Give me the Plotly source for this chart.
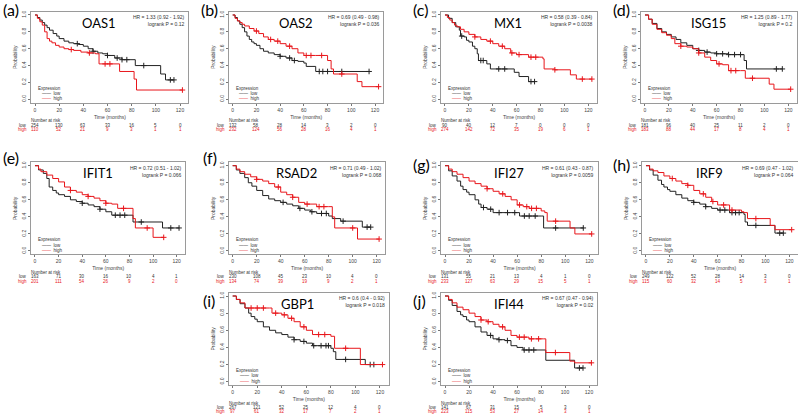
import plotly.graph_objects as go

W, H = 798, 415
RED = "#e8161b"
BLACK = "#222222"

TIME_TICKS = [0, 20, 40, 60, 80, 100, 120]
PROB_TICKS = [0, 0.2, 0.4, 0.6, 0.8, 1.0]
PROB_LABELS = ["0.0", "0.2", "0.4", "0.6", "0.8", "1.0"]

GENES = ["OAS1", "OAS2", "MX1", "ISG15", "IFIT1", "RSAD2", "IFI27", "IRF9", "GBP1", "IFI44"]
LETTERS = ["(a)", "(b)", "(c)", "(d)", "(e)", "(f)", "(g)", "(h)", "(i)", "(j)"]
HR_TEXT = ["HR = 1.33 (0.92 - 1.92)", "HR = 0.69 (0.49 - 0.98)", "HR = 0.58 (0.39 - 0.84)",
           "HR = 1.25 (0.89 - 1.77)", "HR = 0.72 (0.51 - 1.02)", "HR = 0.71 (0.49 - 1.02)",
           "HR = 0.61 (0.43 - 0.87)", "HR = 0.69 (0.47 - 1.02)", "HR = 0.6 (0.4 - 0.92)",
           "HR = 0.67 (0.47 - 0.94)"]
P_TEXT = ["logrank P = 0.12", "logrank P = 0.036", "logrank P = 0.0038", "logrank P = 0.2",
          "logrank P = 0.066", "logrank P = 0.068", "logrank P = 0.0059", "logrank P = 0.064",
          "logrank P = 0.018", "logrank P = 0.02"]

# ---- numbers at risk (at 0,20,...,120 months) ----
RISK_LOW_OAS1 = [254, 130, 63, 33, 16, 5, 0]
RISK_HIGH_OAS1 = [110, 52, 21, 9, 3, 1, 1]
RISK_LOW_OAS2 = [132, 58, 28, 14, 3, 2, 0]
RISK_HIGH_OAS2 = [232, 124, 56, 28, 16, 4, 1]
RISK_LOW_MX1 = [90, 40, 12, 7, 0, 0, 0]
RISK_HIGH_MX1 = [274, 142, 72, 35, 19, 6, 1]
RISK_LOW_ISG15 = [181, 96, 40, 25, 11, 2, 0]
RISK_HIGH_ISG15 = [183, 88, 44, 17, 8, 4, 1]
RISK_LOW_IFIT1 = [163, 71, 30, 16, 10, 4, 1]
RISK_HIGH_IFIT1 = [201, 111, 54, 26, 9, 2, 0]
RISK_LOW_RSAD2 = [230, 108, 45, 23, 10, 4, 0]
RISK_HIGH_RSAD2 = [134, 74, 39, 19, 9, 2, 1]
RISK_LOW_IFI27 = [131, 55, 21, 13, 4, 1, 0]
RISK_HIGH_IFI27 = [233, 127, 63, 29, 15, 5, 1]
RISK_LOW_IRF9 = [249, 122, 52, 28, 14, 3, 0]
RISK_HIGH_IRF9 = [115, 60, 32, 14, 5, 3, 1]
RISK_LOW_GBP1 = [267, 121, 52, 25, 12, 4, 0]
RISK_HIGH_GBP1 = [97, 61, 32, 17, 7, 2, 1]
RISK_LOW_IFI44 = [141, 67, 31, 15, 5, 3, 0]
RISK_HIGH_IFI44 = [223, 115, 53, 27, 14, 3, 1]

# ---- Kaplan-Meier step curves (time in months, survival probability), censor times ----
OAS1_LOW_T = [0, 2, 4, 6, 8, 10, 12, 15, 18, 20, 24, 28, 32, 36, 40, 44, 48, 52, 56, 60, 66, 72, 83, 104, 108, 115]
OAS1_LOW_S = [1.0, .97, .94, .91, .88, .85, .82, .78, .75, .72, .69, .67, .66, .65, .63, .60, .57, .55, .54, .52, .49, .47, .40, .30, .23, .23]
OAS1_LOW_C = [35, 48, 60, 68, 72, 76, 90, 112, 115]
OAS1_HIGH_T = [0, 2, 4, 6, 8, 10, 12, 14, 17, 20, 24, 28, 32, 38, 44, 50, 53, 70, 82, 84, 122]
OAS1_HIGH_S = [1.0, .96, .92, .88, .80, .72, .69, .67, .64, .62, .60, .59, .58, .56, .55, .54, .42, .33, .24, .11, .11]
OAS1_HIGH_C = [30, 45, 58, 62, 122]

OAS2_LOW_T = [0, 2, 4, 6, 8, 10, 12, 14, 16, 18, 20, 23, 26, 30, 35, 40, 45, 50, 55, 60, 62, 70, 115]
OAS2_LOW_S = [1.0, .97, .93, .89, .85, .80, .75, .71, .68, .66, .64, .60, .57, .55, .53, .51, .49, .46, .45, .43, .39, .33, .33]
OAS2_LOW_C = [40, 48, 52, 73, 76, 80, 92, 115]
OAS2_HIGH_T = [0, 2, 4, 6, 8, 10, 14, 18, 22, 26, 30, 35, 40, 45, 50, 55, 60, 70, 80, 83, 85, 105, 109, 123]
OAS2_HIGH_S = [1.0, .96, .93, .91, .89, .87, .84, .81, .78, .74, .71, .69, .66, .63, .60, .55, .52, .52, .46, .36, .30, .21, .15, .15]
OAS2_HIGH_C = [20, 32, 38, 48, 62, 66, 75, 92, 123]

MX1_LOW_T = [0, 3, 6, 9, 12, 13, 16, 18, 20, 23, 25, 27, 28, 35, 38, 58, 62, 70, 75]
MX1_LOW_S = [1.0, .96, .91, .86, .82, .75, .74, .70, .68, .63, .60, .54, .46, .42, .36, .32, .27, .21, .21]
MX1_LOW_C = [14, 30, 32, 45, 50, 72, 75]
MX1_HIGH_T = [0, 2, 4, 6, 8, 10, 13, 16, 20, 25, 30, 35, 40, 45, 50, 55, 60, 70, 82, 83, 92, 105, 110, 123]
MX1_HIGH_S = [1.0, .97, .94, .91, .88, .86, .83, .80, .77, .74, .71, .69, .66, .63, .60, .55, .53, .50, .48, .36, .35, .29, .24, .24]
MX1_HIGH_C = [25, 38, 48, 56, 62, 72, 76, 92, 115, 123]

ISG15_LOW_T = [0, 3, 6, 10, 14, 18, 22, 26, 30, 35, 40, 45, 50, 55, 60, 70, 82, 83, 85, 115]
ISG15_LOW_S = [1.0, .95, .90, .84, .80, .77, .74, .71, .67, .64, .60, .58, .56, .55, .54, .53, .53, .46, .36, .36]
ISG15_LOW_C = [45, 52, 60, 65, 70, 75, 80, 110, 115]
ISG15_HIGH_T = [0, 3, 6, 10, 14, 18, 22, 25, 30, 35, 40, 45, 50, 55, 60, 65, 70, 80, 84, 104, 108, 122]
ISG15_HIGH_S = [1.0, .95, .89, .83, .79, .76, .72, .66, .63, .62, .60, .55, .50, .46, .42, .41, .34, .34, .25, .18, .12, .12]
ISG15_HIGH_C = [30, 45, 62, 72, 76, 90, 122]

IFIT1_LOW_T = [0, 3, 7, 10, 12, 15, 18, 20, 25, 30, 35, 40, 45, 50, 55, 60, 65, 83, 108, 122]
IFIT1_LOW_S = [1.0, .95, .91, .85, .75, .71, .68, .66, .64, .60, .58, .56, .54, .52, .49, .46, .42, .34, .27, .27]
IFIT1_LOW_C = [40, 55, 68, 72, 76, 90, 115, 122]
IFIT1_HIGH_T = [0, 3, 5, 10, 15, 20, 25, 30, 35, 40, 45, 50, 55, 60, 65, 70, 83, 85, 100, 109]
IFIT1_HIGH_S = [1.0, .96, .93, .89, .85, .81, .75, .71, .69, .66, .64, .62, .59, .56, .55, .50, .38, .27, .16, .16]
IFIT1_HIGH_C = [30, 45, 60, 75, 95, 109]

RSAD2_LOW_T = [0, 3, 6, 10, 13, 16, 20, 25, 30, 35, 40, 45, 50, 55, 60, 65, 70, 80, 83, 90, 108, 115]
RSAD2_LOW_S = [1.0, .95, .91, .86, .80, .76, .71, .65, .61, .59, .57, .55, .53, .50, .48, .46, .44, .41, .38, .35, .28, .28]
RSAD2_LOW_C = [42, 56, 66, 74, 78, 92, 112, 115]
RSAD2_HIGH_T = [0, 3, 6, 10, 15, 20, 25, 30, 35, 40, 45, 50, 55, 60, 70, 80, 83, 85, 104, 122]
RSAD2_HIGH_S = [1.0, .96, .93, .90, .87, .84, .82, .79, .75, .69, .66, .63, .57, .55, .52, .52, .40, .27, .14, .14]
RSAD2_HIGH_C = [20, 38, 50, 62, 72, 76, 100, 122]

IFI27_LOW_T = [0, 3, 6, 10, 13, 15, 18, 20, 25, 28, 30, 35, 40, 60, 62, 80, 82, 115]
IFI27_LOW_S = [1.0, .94, .88, .82, .76, .72, .69, .66, .60, .55, .51, .49, .45, .45, .41, .41, .27, .27]
IFI27_LOW_C = [32, 38, 45, 52, 58, 66, 70, 75, 92, 115]
IFI27_HIGH_T = [0, 3, 6, 10, 15, 20, 25, 30, 35, 40, 45, 50, 55, 60, 65, 70, 80, 83, 85, 104, 108, 122]
IFI27_HIGH_S = [1.0, .96, .93, .90, .86, .82, .79, .76, .73, .70, .67, .64, .60, .54, .52, .50, .47, .45, .35, .27, .20, .20]
IFI27_HIGH_C = [35, 48, 62, 68, 72, 76, 92, 122]

IRF9_LOW_T = [0, 3, 6, 10, 13, 15, 18, 20, 25, 30, 35, 40, 45, 50, 55, 60, 70, 82, 83, 85, 108, 115]
IRF9_LOW_S = [1.0, .95, .89, .83, .78, .75, .72, .70, .66, .62, .59, .57, .55, .52, .50, .48, .45, .43, .34, .30, .21, .21]
IRF9_LOW_C = [40, 50, 62, 66, 72, 75, 78, 92, 112, 115]
IRF9_HIGH_T = [0, 3, 6, 10, 15, 20, 25, 30, 35, 40, 45, 50, 55, 60, 70, 80, 82, 85, 104, 108, 122]
IRF9_HIGH_S = [1.0, .96, .94, .92, .88, .85, .82, .79, .77, .71, .67, .63, .58, .54, .48, .46, .45, .38, .30, .25, .25]
IRF9_HIGH_C = [22, 35, 48, 56, 65, 72, 92, 122]

GBP1_LOW_T = [0, 3, 6, 10, 13, 15, 18, 20, 25, 30, 35, 40, 45, 50, 55, 60, 65, 80, 82, 84, 108, 115]
GBP1_LOW_S = [1.0, .96, .91, .86, .80, .76, .73, .70, .64, .60, .57, .55, .52, .49, .47, .45, .42, .39, .35, .26, .20, .20]
GBP1_LOW_C = [50, 58, 66, 72, 76, 78, 92, 112, 115]
GBP1_HIGH_T = [0, 3, 6, 10, 30, 32, 40, 45, 50, 55, 60, 65, 80, 83, 104, 122]
GBP1_HIGH_S = [1.0, .96, .92, .86, .86, .80, .78, .74, .70, .64, .60, .55, .53, .39, .20, .20]
GBP1_HIGH_C = [15, 20, 25, 35, 42, 48, 58, 70, 75, 92, 122]

IFI44_LOW_T = [0, 3, 6, 10, 13, 15, 18, 20, 25, 30, 35, 40, 45, 50, 55, 60, 65, 80, 84, 108, 115]
IFI44_LOW_S = [1.0, .95, .89, .82, .78, .76, .72, .70, .64, .58, .54, .50, .49, .48, .42, .40, .37, .37, .25, .16, .16]
IFI44_LOW_C = [38, 45, 52, 66, 70, 74, 112, 115]
IFI44_HIGH_T = [0, 3, 6, 10, 15, 20, 25, 30, 35, 40, 45, 50, 55, 60, 70, 82, 84, 104, 108, 122]
IFI44_HIGH_S = [1.0, .96, .92, .87, .84, .80, .76, .72, .70, .67, .64, .60, .54, .52, .50, .50, .34, .24, .22, .22]
IFI44_HIGH_C = [30, 36, 48, 62, 66, 72, 78, 92, 122]

CURVES = [
    (OAS1_LOW_T, OAS1_LOW_S, OAS1_LOW_C, OAS1_HIGH_T, OAS1_HIGH_S, OAS1_HIGH_C, RISK_LOW_OAS1, RISK_HIGH_OAS1),
    (OAS2_LOW_T, OAS2_LOW_S, OAS2_LOW_C, OAS2_HIGH_T, OAS2_HIGH_S, OAS2_HIGH_C, RISK_LOW_OAS2, RISK_HIGH_OAS2),
    (MX1_LOW_T, MX1_LOW_S, MX1_LOW_C, MX1_HIGH_T, MX1_HIGH_S, MX1_HIGH_C, RISK_LOW_MX1, RISK_HIGH_MX1),
    (ISG15_LOW_T, ISG15_LOW_S, ISG15_LOW_C, ISG15_HIGH_T, ISG15_HIGH_S, ISG15_HIGH_C, RISK_LOW_ISG15, RISK_HIGH_ISG15),
    (IFIT1_LOW_T, IFIT1_LOW_S, IFIT1_LOW_C, IFIT1_HIGH_T, IFIT1_HIGH_S, IFIT1_HIGH_C, RISK_LOW_IFIT1, RISK_HIGH_IFIT1),
    (RSAD2_LOW_T, RSAD2_LOW_S, RSAD2_LOW_C, RSAD2_HIGH_T, RSAD2_HIGH_S, RSAD2_HIGH_C, RISK_LOW_RSAD2, RISK_HIGH_RSAD2),
    (IFI27_LOW_T, IFI27_LOW_S, IFI27_LOW_C, IFI27_HIGH_T, IFI27_HIGH_S, IFI27_HIGH_C, RISK_LOW_IFI27, RISK_HIGH_IFI27),
    (IRF9_LOW_T, IRF9_LOW_S, IRF9_LOW_C, IRF9_HIGH_T, IRF9_HIGH_S, IRF9_HIGH_C, RISK_LOW_IRF9, RISK_HIGH_IRF9),
    (GBP1_LOW_T, GBP1_LOW_S, GBP1_LOW_C, GBP1_HIGH_T, GBP1_HIGH_S, GBP1_HIGH_C, RISK_LOW_GBP1, RISK_HIGH_GBP1),
    (IFI44_LOW_T, IFI44_LOW_S, IFI44_LOW_C, IFI44_HIGH_T, IFI44_HIGH_S, IFI44_HIGH_C, RISK_LOW_IFI44, RISK_HIGH_IFI44),
]

# ---- layout geometry (pixel positions of tick 0 and tick 120, row index) ----
PANEL_GEOM = [(35, 180, 0), (232.7, 375, 0), (445, 588.3, 0), (645, 788.3, 0),
              (35, 176.7, 1), (232.7, 376.7, 1), (445, 589.3, 1), (646, 789.3, 1),
              (232.7, 380, 2), (445, 589, 2)]
ROW_Y = [(15, 99.3), (165.7, 251), (296, 381.7)]   # pixel y of prob 1.0 and 0.0
LETTER_POS = [(2, 9), (200, 9), (412, 9), (612, 9), (2, 157), (202, 157),
              (412, 164), (612, 164), (202, 300), (412, 300)]
XR = (-3, 127)
YR = (-0.04, 1.04)

SMALL = "Liberation Sans, Arial, sans-serif"
BIG = "Lato, Open Sans, sans-serif"
TXT = dict(size=5, family=SMALL, color="#333")
LEG = dict(size=4.5, family=SMALL, color="#333")
TAB = dict(size=4.5, family=SMALL, color="#333")
TAB_RED = dict(size=4.5, family=SMALL, color=RED)


def step_at(ts, ss, t):
    v = ss[0]
    for ti, si in zip(ts, ss):
        if ti <= t:
            v = si
    return v


def clamp(v):
    return max(0.0, min(1.0, v))


fig = go.Figure()
layout = dict(width=W, height=H, margin=dict(l=0, r=0, t=0, b=0, pad=0), autosize=False,
              paper_bgcolor="white", plot_bgcolor="white", showlegend=False)
annotations = []


def note(**kw):
    kw.setdefault("showarrow", False)
    kw.setdefault("xanchor", "center")
    kw.setdefault("yanchor", "middle")
    kw.setdefault("borderpad", 0)
    annotations.append(kw)


for i, (x0, x120, row) in enumerate(PANEL_GEOM):
    sfx = "" if i == 0 else str(i + 1)
    xref, yref = "x" + sfx, "y" + sfx
    p = (x120 - x0) / 120.0
    left = x0 + XR[0] * p
    right = x0 + XR[1] * p
    y1, y0 = ROW_Y[row]
    q = y0 - y1
    top = y1 - (YR[1] - 1) * q
    bottom = y0 - YR[0] * q

    axcommon = dict(showline=True, mirror=True, linecolor="#9a9a9a", linewidth=1,
                    showgrid=False, zeroline=False, ticks="outside", ticklen=2,
                    tickcolor="#777", tickwidth=1, automargin=False,
                    tickfont=dict(size=5, family=SMALL, color="#444"))
    layout["xaxis" + sfx] = dict(axcommon, domain=[clamp(left / W), clamp(right / W)], range=list(XR),
                                 anchor=yref, tickvals=TIME_TICKS,
                                 title=dict(text="Time (months)", standoff=3,
                                            font=dict(size=5, family=SMALL, color="#444")))
    layout["yaxis" + sfx] = dict(axcommon, domain=[clamp(1 - bottom / H), clamp(1 - top / H)],
                                 range=list(YR), anchor=xref, tickvals=PROB_TICKS,
                                 ticktext=PROB_LABELS, tickangle=-90,
                                 title=dict(text="Probability", standoff=3,
                                            font=dict(size=5, family=SMALL, color="#444")))

    lt, ls, lc, ht, hs, hc, rl, rh = CURVES[i]
    for ts, ss, cs, col in ((lt, ls, lc, BLACK), (ht, hs, hc, RED)):
        fig.add_trace(go.Scatter(x=ts, y=ss, mode="lines", line=dict(color=col, width=1, shape="hv"),
                                 xaxis=xref, yaxis=yref, hoverinfo="skip"))
        fig.add_trace(go.Scatter(x=cs, y=[step_at(ts, ss, c) for c in cs], mode="markers",
                                 marker=dict(symbol="cross-thin", size=4, line=dict(color=col, width=1)),
                                 xaxis=xref, yaxis=yref, hoverinfo="skip"))

    note(text=GENES[i], x=53, y=0.91, xref=xref, yref=yref,
         font=dict(size=13, family=BIG, color="black"))
    note(text=HR_TEXT[i] + "<br>" + P_TEXT[i], x=0.985, y=0.985,
         xref=xref + " domain", yref=yref + " domain", xanchor="right",
         yanchor="top", align="right", font=TXT)
    note(text="Expression", x=0.035, y=0.158, xref=xref + " domain",
         yref=yref + " domain", xanchor="left", font=LEG)
    note(text="<span style='color:%s'>——</span>  low" % BLACK, x=0.06, y=0.1,
         xref=xref + " domain", yref=yref + " domain", xanchor="left", font=LEG)
    note(text="<span style='color:%s'>——</span>  high" % RED, x=0.06, y=0.042,
         xref=xref + " domain", yref=yref + " domain", xanchor="left", font=LEG)
    lx, ly = LETTER_POS[i]
    note(text=LETTERS[i], x=lx / W, y=1 - ly / H, xref="paper", yref="paper",
         xanchor="left", font=dict(size=16, family=BIG, color="black"))
    # number-at-risk table
    y_nar = 1 - (bottom + 18.3) / H
    y_low = 1 - (bottom + 22.5) / H
    y_high = 1 - (bottom + 26.7) / H
    note(text="Number at risk", x=(x0 - 5) / W, y=y_nar, xref="paper", yref="paper",
         xanchor="left", font=TAB)
    note(text="low", x=(x0 - 7) / W, y=y_low, xref="paper", yref="paper",
         xanchor="right", font=TAB)
    note(text="high", x=(x0 - 7) / W, y=y_high, xref="paper", yref="paper",
         xanchor="right", font=TAB_RED)
    for t, vl, vh in zip(TIME_TICKS, rl, rh):
        note(text=str(vl), x=t, y=y_low, xref=xref, yref="paper", font=TAB)
        note(text=str(vh), x=t, y=y_high, xref=xref, yref="paper", font=TAB_RED)

layout["annotations"] = annotations
fig.update_layout(**layout)
fig.write_html("out.html", config={"displayModeBar": False},
               post_script="document.body.style.margin='0px';")
